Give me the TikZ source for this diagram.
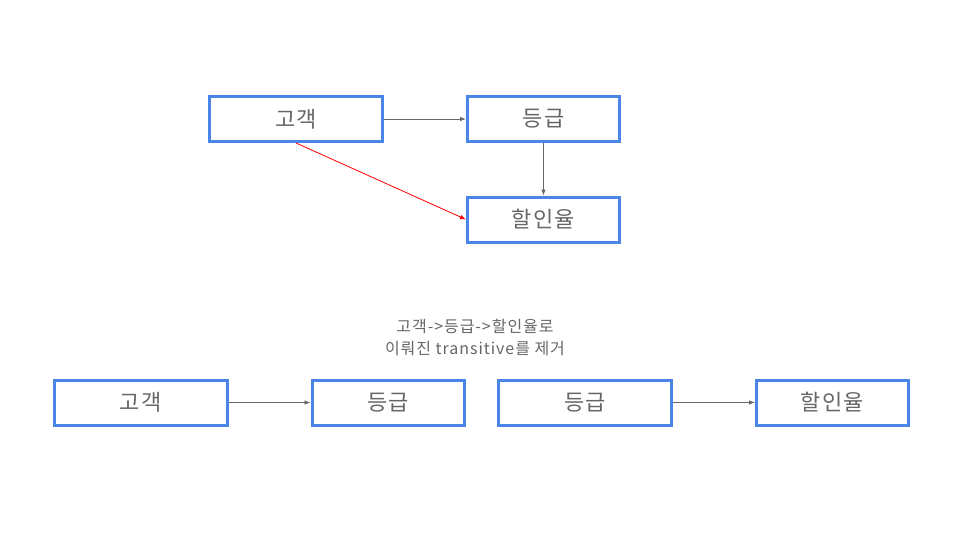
\documentclass[tikz,border=0pt]{standalone}
\usepackage{fontspec}
\setmainfont[LetterSpace=6]{Noto Sans CJK KR}
\usetikzlibrary{arrows.meta}
\definecolor{boxblue}{HTML}{4A86E8}
\definecolor{txtgrey}{HTML}{666666}
\tikzset{
  entity/.style={draw=boxblue, line width=3pt, text=txtgrey, font=\fontsize{22}{24}\selectfont,
    minimum height=45pt, inner sep=0pt},
  wide/.style={entity, minimum width=173pt},
  narrow/.style={entity, minimum width=152pt},
  dep/.style={draw=txtgrey, line width=0.8pt, -{Latex[length=6pt,width=4.5pt]}}
}

\begin{document}
\begin{tikzpicture}[x=1pt,y=-1pt]
\useasboundingbox (0,0) rectangle (960,540);
% top: with transitive dependency
\node [wide] (cust) at (296,119) {고객};
\node [narrow] (grade) at (543.5,119) {등급};
\node [narrow] (rate) at (543.5,219.5) {할인율};
\draw [dep] (cust) -- (grade);
\draw [dep] (grade) -- (rate);
\draw [dep, draw=red] (cust.south) -- (rate.west);
% caption
\node [text=txtgrey, font=\fontsize{16}{22}\selectfont, align=center] (note) at (475,337)
  {고객->등급->할인율로\\이뤄진 transitive를 제거};
% bottom: split
\node [wide] (cust2) at (140.5,402.5) {고객};
\node [narrow] (grade2) at (388,402.5) {등급};
\node [wide] (grade3) at (585,402.5) {등급};
\node [narrow] (rate2) at (832.5,402.5) {할인율};
\draw [dep] (cust2) -- (grade2);
\draw [dep] (grade3) -- (rate2);
\end{tikzpicture}
\end{document}
